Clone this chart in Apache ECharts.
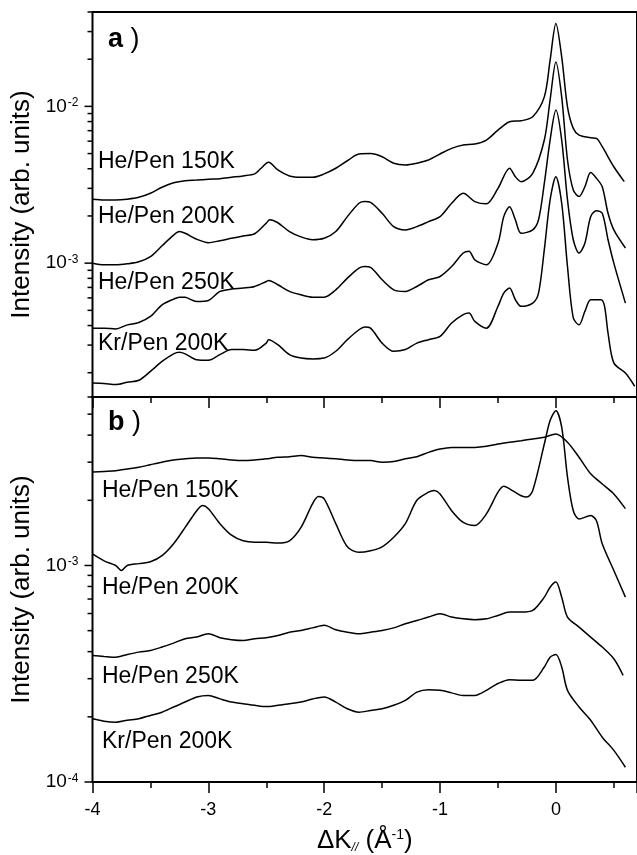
<!DOCTYPE html>
<html>
<head>
<meta charset="utf-8">
<script src="https://cdn.jsdelivr.net/npm/echarts@6/dist/echarts.min.js"></script>
<style>html,body{margin:0;padding:0;background:#fff;}#c{width:637px;height:855px;}</style>
</head>
<body>
<div id="c"></div>
<script>
// ---- Data ----
// Panel a
const a150 = [[-4,2.56e-3],[-3.9,2.53e-3],[-3.8,2.53e-3],[-3.7,2.56e-3],[-3.6,2.63e-3],[-3.5,2.79e-3],[-3.4,3.05e-3],[-3.3,3.26e-3],[-3.2,3.36e-3],[-3.1,3.39e-3],[-3.0,3.43e-3],[-2.9,3.46e-3],[-2.8,3.53e-3],[-2.7,3.6e-3],[-2.6,3.71e-3],[-2.55,4.0e-3],[-2.48,4.4e-3],[-2.4,3.93e-3],[-2.3,3.6e-3],[-2.2,3.53e-3],[-2.1,3.53e-3],[-2.0,3.71e-3],[-1.9,4.03e-3],[-1.8,4.5e-3],[-1.7,4.97e-3],[-1.6,5.0e-3],[-1.5,4.77e-3],[-1.4,4.34e-3],[-1.3,4.23e-3],[-1.2,4.34e-3],[-1.1,4.55e-3],[-1.0,4.97e-3],[-0.9,5.4e-3],[-0.8,5.67e-3],[-0.7,5.75e-3],[-0.6,6.1e-3],[-0.5,7.06e-3],[-0.4,7.98e-3],[-0.3,8.1e-3],[-0.2,8.59e-3],[-0.1,1.15e-2],[-0.05,1.97e-2],[0,3.38e-2],[0.05,2.07e-2],[0.1,9.94e-3],[0.15,7.24e-3],[0.2,6.56e-3],[0.3,6.31e-3],[0.35,6.25e-3],[0.4,5.53e-3],[0.5,4.12e-3],[0.59,3.31e-3]];
const a200 = [[-4,1.0e-3],[-3.9,9.75e-4],[-3.8,9.75e-4],[-3.7,9.9e-4],[-3.6,1.02e-3],[-3.5,1.1e-3],[-3.4,1.29e-3],[-3.3,1.51e-3],[-3.25,1.59e-3],[-3.2,1.55e-3],[-3.1,1.42e-3],[-3.0,1.35e-3],[-2.9,1.39e-3],[-2.8,1.44e-3],[-2.7,1.49e-3],[-2.6,1.54e-3],[-2.5,1.8e-3],[-2.47,1.89e-3],[-2.4,1.81e-3],[-2.3,1.59e-3],[-2.2,1.47e-3],[-2.1,1.41e-3],[-2.0,1.44e-3],[-1.9,1.59e-3],[-1.8,1.98e-3],[-1.7,2.41e-3],[-1.65,2.47e-3],[-1.6,2.44e-3],[-1.5,2.08e-3],[-1.4,1.71e-3],[-1.3,1.63e-3],[-1.2,1.71e-3],[-1.1,1.84e-3],[-1.0,1.98e-3],[-0.9,2.41e-3],[-0.8,2.79e-3],[-0.7,2.47e-3],[-0.6,2.39e-3],[-0.5,3.0e-3],[-0.4,4.03e-3],[-0.35,3.56e-3],[-0.3,3.31e-3],[-0.2,3.74e-3],[-0.1,6.1e-3],[-0.05,1.1e-2],[0,1.92e-2],[0.05,1.15e-2],[0.1,4.55e-3],[0.15,2.93e-3],[0.2,2.66e-3],[0.25,3.07e-3],[0.3,3.78e-3],[0.35,3.48e-3],[0.4,3.07e-3],[0.45,2.08e-3],[0.5,1.63e-3],[0.6,1.25e-3]];
const a250 = [[-4,3.85e-4],[-3.9,3.85e-4],[-3.8,3.8e-4],[-3.7,4.04e-4],[-3.6,4.18e-4],[-3.5,4.57e-4],[-3.4,5.42e-4],[-3.3,5.9e-4],[-3.25,6.07e-4],[-3.2,6.05e-4],[-3.1,5.69e-4],[-3.0,5.78e-4],[-2.9,6.6e-4],[-2.8,6.83e-4],[-2.7,6.93e-4],[-2.6,7.1e-4],[-2.5,7.64e-4],[-2.48,7.75e-4],[-2.4,7.28e-4],[-2.3,6.6e-4],[-2.2,6.28e-4],[-2.1,6.07e-4],[-2.0,6.07e-4],[-1.9,6.76e-4],[-1.8,8.02e-4],[-1.7,9.29e-4],[-1.65,9.51e-4],[-1.6,9.4e-4],[-1.5,7.83e-4],[-1.4,6.76e-4],[-1.3,6.6e-4],[-1.2,7.1e-4],[-1.1,7.83e-4],[-1.0,8.22e-4],[-0.9,9.51e-4],[-0.8,1.16e-3],[-0.75,1.19e-3],[-0.7,1.05e-3],[-0.6,9.75e-4],[-0.5,1.34e-3],[-0.45,1.98e-3],[-0.4,2.29e-3],[-0.35,1.89e-3],[-0.3,1.55e-3],[-0.2,1.63e-3],[-0.15,1.89e-3],[-0.1,3.23e-3],[-0.05,6.1e-3],[0,9.47e-3],[0.05,6.1e-3],[0.1,2.53e-3],[0.15,1.41e-3],[0.2,1.16e-3],[0.25,1.34e-3],[0.3,1.98e-3],[0.35,2.16e-3],[0.4,2.08e-3],[0.45,1.41e-3],[0.5,1.0e-3],[0.6,5.56e-4]];
const aKr200 = [[-4,1.72e-4],[-3.9,1.71e-4],[-3.8,1.68e-4],[-3.7,1.74e-4],[-3.6,1.79e-4],[-3.5,2.04e-4],[-3.4,2.36e-4],[-3.3,2.64e-4],[-3.25,2.7e-4],[-3.2,2.64e-4],[-3.1,2.42e-4],[-3.0,2.4e-4],[-2.9,2.61e-4],[-2.8,2.81e-4],[-2.7,2.81e-4],[-2.6,2.78e-4],[-2.5,3.09e-4],[-2.48,3.25e-4],[-2.4,3.02e-4],[-2.3,2.61e-4],[-2.2,2.48e-4],[-2.1,2.45e-4],[-2.0,2.48e-4],[-1.9,2.74e-4],[-1.8,3.25e-4],[-1.7,3.76e-4],[-1.65,3.91e-4],[-1.6,3.85e-4],[-1.5,3.09e-4],[-1.4,2.74e-4],[-1.3,2.81e-4],[-1.2,3.09e-4],[-1.1,3.25e-4],[-1.0,3.41e-4],[-0.9,4.15e-4],[-0.8,4.69e-4],[-0.75,4.8e-4],[-0.7,4.25e-4],[-0.6,3.85e-4],[-0.5,5.3e-4],[-0.45,6.44e-4],[-0.4,6.93e-4],[-0.35,5.84e-4],[-0.3,5.3e-4],[-0.2,5.56e-4],[-0.15,6.44e-4],[-0.1,1.22e-3],[-0.05,2.53e-3],[0,3.56e-3],[0.05,2.41e-3],[0.1,9.51e-4],[0.15,4.47e-4],[0.2,4.04e-4],[0.25,4.92e-4],[0.3,5.84e-4],[0.35,5.84e-4],[0.39,5.84e-4],[0.42,5.3e-4],[0.45,3.58e-4],[0.5,2.31e-4],[0.6,1.99e-4],[0.68,1.64e-4]];
// Panel b
const b150 = [[-4,2.7e-3],[-3.9,2.72e-3],[-3.8,2.74e-3],[-3.7,2.79e-3],[-3.6,2.84e-3],[-3.5,2.92e-3],[-3.4,3.0e-3],[-3.3,3.07e-3],[-3.2,3.11e-3],[-3.1,3.14e-3],[-3.0,3.14e-3],[-2.9,3.11e-3],[-2.8,3.07e-3],[-2.7,3.05e-3],[-2.6,3.07e-3],[-2.5,3.11e-3],[-2.4,3.16e-3],[-2.3,3.18e-3],[-2.2,3.22e-3],[-2.1,3.16e-3],[-2.0,3.14e-3],[-1.9,3.11e-3],[-1.8,3.07e-3],[-1.7,3.05e-3],[-1.6,3.05e-3],[-1.5,3.0e-3],[-1.4,3.02e-3],[-1.3,3.11e-3],[-1.2,3.18e-3],[-1.1,3.33e-3],[-1.0,3.45e-3],[-0.9,3.51e-3],[-0.8,3.51e-3],[-0.7,3.51e-3],[-0.6,3.55e-3],[-0.5,3.64e-3],[-0.4,3.71e-3],[-0.3,3.77e-3],[-0.2,3.84e-3],[-0.1,3.91e-3],[0,4.05e-3],[0.1,3.71e-3],[0.2,3.16e-3],[0.3,2.65e-3],[0.4,2.38e-3],[0.5,2.14e-3],[0.6,1.83e-3]];
const b200 = [[-4,1.13e-3],[-3.9,1.05e-3],[-3.8,1.0e-3],[-3.75,9.48e-4],[-3.7,1.0e-3],[-3.6,1.02e-3],[-3.5,1.04e-3],[-3.4,1.11e-3],[-3.3,1.26e-3],[-3.2,1.5e-3],[-3.1,1.79e-3],[-3.05,1.89e-3],[-3.0,1.83e-3],[-2.9,1.56e-3],[-2.8,1.38e-3],[-2.7,1.3e-3],[-2.6,1.28e-3],[-2.5,1.28e-3],[-2.4,1.27e-3],[-2.3,1.3e-3],[-2.2,1.5e-3],[-2.1,1.93e-3],[-2.05,2.08e-3],[-2.0,2.03e-3],[-1.9,1.56e-3],[-1.8,1.22e-3],[-1.7,1.15e-3],[-1.6,1.17e-3],[-1.5,1.22e-3],[-1.4,1.35e-3],[-1.3,1.56e-3],[-1.2,2.0e-3],[-1.1,2.18e-3],[-1.05,2.22e-3],[-1.0,2.14e-3],[-0.9,1.79e-3],[-0.8,1.58e-3],[-0.7,1.53e-3],[-0.6,1.73e-3],[-0.5,2.18e-3],[-0.45,2.32e-3],[-0.4,2.26e-3],[-0.3,2.1e-3],[-0.25,2.07e-3],[-0.2,2.22e-3],[-0.1,3.64e-3],[-0.05,4.67e-3],[0,5.19e-3],[0.05,4.35e-3],[0.1,2.56e-3],[0.15,1.79e-3],[0.2,1.64e-3],[0.3,1.7e-3],[0.35,1.61e-3],[0.4,1.26e-3],[0.5,9.48e-4],[0.6,7.14e-4]];
const b250 = [[-4,3.84e-4],[-3.9,3.8e-4],[-3.8,3.77e-4],[-3.7,3.88e-4],[-3.6,3.98e-4],[-3.5,4.05e-4],[-3.4,4.2e-4],[-3.3,4.38e-4],[-3.2,4.59e-4],[-3.1,4.67e-4],[-3.0,4.84e-4],[-2.9,4.64e-4],[-2.8,4.54e-4],[-2.7,4.5e-4],[-2.6,4.59e-4],[-2.5,4.64e-4],[-2.4,4.75e-4],[-2.3,4.92e-4],[-2.2,5.01e-4],[-2.1,5.15e-4],[-2.0,5.29e-4],[-1.9,5.05e-4],[-1.8,4.92e-4],[-1.7,4.84e-4],[-1.6,4.92e-4],[-1.5,5.01e-4],[-1.4,5.15e-4],[-1.3,5.38e-4],[-1.2,5.57e-4],[-1.1,5.78e-4],[-1.0,5.98e-4],[-0.9,5.78e-4],[-0.8,5.67e-4],[-0.7,5.62e-4],[-0.6,5.67e-4],[-0.5,5.88e-4],[-0.4,6.09e-4],[-0.3,6.09e-4],[-0.2,6.2e-4],[-0.1,7.14e-4],[-0.05,7.94e-4],[0,8.38e-4],[0.05,7.14e-4],[0.1,5.78e-4],[0.2,5.19e-4],[0.3,4.67e-4],[0.4,4.2e-4],[0.5,3.71e-4],[0.58,3.11e-4]];
const bKr200 = [[-4,1.96e-4],[-3.9,1.91e-4],[-3.8,1.89e-4],[-3.7,1.93e-4],[-3.6,1.96e-4],[-3.5,2.03e-4],[-3.4,2.1e-4],[-3.3,2.22e-4],[-3.2,2.34e-4],[-3.1,2.47e-4],[-3.0,2.51e-4],[-2.9,2.42e-4],[-2.8,2.34e-4],[-2.7,2.3e-4],[-2.6,2.26e-4],[-2.5,2.23e-4],[-2.4,2.26e-4],[-2.3,2.3e-4],[-2.2,2.34e-4],[-2.1,2.42e-4],[-2.0,2.47e-4],[-1.9,2.34e-4],[-1.8,2.18e-4],[-1.7,2.1e-4],[-1.6,2.14e-4],[-1.5,2.18e-4],[-1.4,2.26e-4],[-1.3,2.38e-4],[-1.2,2.6e-4],[-1.1,2.67e-4],[-1.0,2.65e-4],[-0.9,2.58e-4],[-0.8,2.51e-4],[-0.7,2.51e-4],[-0.6,2.65e-4],[-0.5,2.85e-4],[-0.4,2.97e-4],[-0.3,2.95e-4],[-0.2,2.95e-4],[-0.1,3.4e-4],[-0.05,3.77e-4],[0,3.88e-4],[0.05,3.4e-4],[0.1,2.65e-4],[0.2,2.22e-4],[0.3,1.93e-4],[0.4,1.61e-4],[0.5,1.4e-4],[0.6,1.17e-4]];

const seriesNames = ['He/Pen 150K', 'He/Pen 200K', 'He/Pen 250K', 'Kr/Pen 200K'];
const panelLabels = ['a', 'b'];
// y-axis tick values (log axes)
const yMajorA = [1e-3, 1e-2];
const yMinorA = [2e-4,3e-4,4e-4,5e-4,6e-4,7e-4,8e-4,9e-4,2e-3,3e-3,4e-3,5e-3,6e-3,7e-3,8e-3,9e-3,2e-2,3e-2,4e-2];
const yMajorB = [1e-4, 1e-3];
const yMinorB = [2e-4,3e-4,4e-4,5e-4,6e-4,7e-4,8e-4,9e-4,2e-3,3e-3,4e-3,5e-3,6e-3];

// ---- Chart ----
const FONT = '"Liberation Sans", Arial, Helvetica, sans-serif';
const chart = echarts.init(document.getElementById('c'), null, {renderer: 'canvas'});
const X_MIN = -4, X_MAX = 0.7;
const GL = 92.5, GW = 547, GH = 385, TOPA = 12, TOPB = 397;

function yLabel(v) {
  const e = Math.log10(v);
  const r = Math.round(e);
  if (Math.abs(e - r) < 1e-6) return '{b|10}{s|' + r + '}';
  return '';
}
function tickSeries(vals, len, xi, yi) {
  return {
    type: 'custom', xAxisIndex: xi, yAxisIndex: yi, silent: true, clip: false, z: 5,
    data: vals.map(v => [X_MIN, v]),
    encode: {x: 0, y: 1},
    renderItem: function (params, api) {
      const p = api.coord([api.value(0), api.value(1)]);
      return {type: 'line', shape: {x1: p[0] - len, y1: p[1], x2: p[0], y2: p[1]},
              style: {stroke: '#000', lineWidth: 1.5}};
    }
  };
}
function line(data, xi, yi, name) {
  return {type: 'line', name: name, data: data, xAxisIndex: xi, yAxisIndex: yi,
          showSymbol: false, smooth: 0.3, animation: false,
          lineStyle: {color: '#000', width: 1.5}, z: 3};
}
const yAxisCommon = {
  type: 'log', logBase: 10,
  axisLine: {show: false}, axisTick: {show: false}, splitLine: {show: false}, minorTick: {show: false},
  axisLabel: {formatter: yLabel, margin: 14, color: '#000', fontSize: 19, fontFamily: FONT,
    rich: {b: {fontSize: 19, fontFamily: FONT, color: '#000'},
           s: {fontSize: 12, fontFamily: FONT, color: '#000', verticalAlign: 'top', padding: [0, 0, 0, 1]}}},
  name: 'Intensity (arb. units)', nameLocation: 'middle', nameGap: 55, nameRotate: 90,
  nameTextStyle: {fontSize: 26, fontFamily: FONT, color: '#000'}
};

const option = {
  backgroundColor: '#fff',
  animation: false,
  grid: [
    {left: GL, top: TOPA, width: GW, height: GH, show: true, borderColor: '#000', borderWidth: 2, backgroundColor: 'transparent'},
    {left: GL, top: TOPB, width: GW, height: GH, show: true, borderColor: '#000', borderWidth: 2, backgroundColor: 'transparent'}
  ],
  xAxis: [
    {type: 'value', gridIndex: 0, min: X_MIN, max: X_MAX, show: false, splitLine: {show: false}},
    {type: 'value', gridIndex: 1, min: X_MIN, max: X_MAX, interval: 1,
     axisLine: {show: true, onZero: false, lineStyle: {color: '#000', width: 2}},
     axisTick: {show: true, inside: false, length: 11, lineStyle: {color: '#000', width: 1.5}},
     minorTick: {show: true, splitNumber: 2, length: 6, lineStyle: {color: '#000', width: 1.5}},
     splitLine: {show: false}, minorSplitLine: {show: false},
     axisLabel: {margin: 19, fontSize: 18, fontFamily: FONT, color: '#000', showMaxLabel: false,
       formatter: v => (Number.isInteger(v) ? String(v) : '')},
     name: '{a|ΔK}{sub|//}{a| (Å}{sup|-1}{a|)}', nameLocation: 'middle', nameGap: 46,
     nameTextStyle: {rich: {
       a: {fontSize: 26, fontFamily: FONT, color: '#000'},
       sub: {fontSize: 12, fontFamily: FONT, color: '#000', verticalAlign: 'bottom', fontStyle: 'italic'},
       sup: {fontSize: 14, fontFamily: FONT, color: '#000', verticalAlign: 'top'}}}},
    {type: 'value', gridIndex: 1, min: X_MIN, max: X_MAX, interval: 1, position: 'top',
     axisLine: {show: true, onZero: false, lineStyle: {color: '#000', width: 2}},
     axisTick: {show: true, inside: true, length: 11, lineStyle: {color: '#000', width: 1.5}},
     minorTick: {show: true, splitNumber: 2, length: 6, lineStyle: {color: '#000', width: 1.5}},
     splitLine: {show: false}, axisLabel: {show: false}}
  ],
  yAxis: [
    Object.assign({}, yAxisCommon, {gridIndex: 0, min: 1.4e-4, max: 0.04}),
    Object.assign({}, yAxisCommon, {gridIndex: 1, min: 1e-4, max: 6e-3})
  ],
  series: [
    line(a150, 0, 0, seriesNames[0]), line(a200, 0, 0, seriesNames[1]),
    line(a250, 0, 0, seriesNames[2]), line(aKr200, 0, 0, seriesNames[3]),
    line(b150, 1, 1, seriesNames[0]), line(b200, 1, 1, seriesNames[1]),
    line(b250, 1, 1, seriesNames[2]), line(bKr200, 1, 1, seriesNames[3]),
    tickSeries(yMajorA, 8, 0, 0), tickSeries(yMinorA, 5, 0, 0),
    tickSeries(yMajorB, 8, 1, 1), tickSeries(yMinorB, 5, 1, 1)
  ],
  graphic: [
    {type: 'text', x: 108, y: 40, style: {text: '{b|' + panelLabels[0] + '}{r| )}', verticalAlign: 'middle',
      rich: {b: {fontSize: 27, fontWeight: 'bold', fontFamily: FONT, fill: '#000'}, r: {fontSize: 27, fontFamily: FONT, fill: '#000'}}}},
    {type: 'text', x: 108, y: 423, style: {text: '{b|' + panelLabels[1] + '}{r| )}', verticalAlign: 'middle',
      rich: {b: {fontSize: 27, fontWeight: 'bold', fontFamily: FONT, fill: '#000'}, r: {fontSize: 27, fontFamily: FONT, fill: '#000'}}}},
    {type: 'text', x: 98, y: 162, style: {text: seriesNames[0], fontSize: 23, fontFamily: FONT, fill: '#000', verticalAlign: 'middle'}},
    {type: 'text', x: 98, y: 217, style: {text: seriesNames[1], fontSize: 23, fontFamily: FONT, fill: '#000', verticalAlign: 'middle'}},
    {type: 'text', x: 98, y: 283, style: {text: seriesNames[2], fontSize: 23, fontFamily: FONT, fill: '#000', verticalAlign: 'middle'}},
    {type: 'text', x: 98, y: 344, style: {text: seriesNames[3], fontSize: 23, fontFamily: FONT, fill: '#000', verticalAlign: 'middle'}},
    {type: 'text', x: 102, y: 491, style: {text: seriesNames[0], fontSize: 23, fontFamily: FONT, fill: '#000', verticalAlign: 'middle'}},
    {type: 'text', x: 102, y: 588, style: {text: seriesNames[1], fontSize: 23, fontFamily: FONT, fill: '#000', verticalAlign: 'middle'}},
    {type: 'text', x: 102, y: 677, style: {text: seriesNames[2], fontSize: 23, fontFamily: FONT, fill: '#000', verticalAlign: 'middle'}},
    {type: 'text', x: 102, y: 742, style: {text: seriesNames[3], fontSize: 23, fontFamily: FONT, fill: '#000', verticalAlign: 'middle'}}
  ]
};
chart.setOption(option);
</script>
</body>
</html>
